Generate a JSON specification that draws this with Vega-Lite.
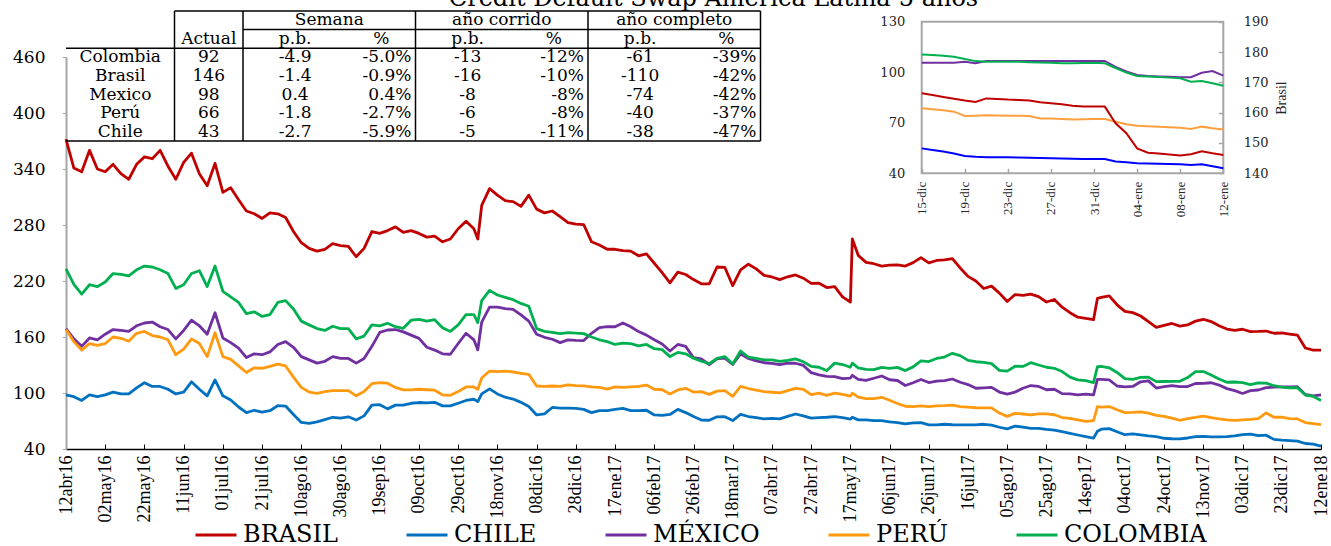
{
  "$schema": "https://vega.github.io/schema/vega-lite/v6.json",
  "width": 1255,
  "height": 392,
  "autosize": {"type": "none"},
  "padding": {"left": 66, "top": 57, "right": 10, "bottom": 97},
  "title": {
    "text": "Credit Default Swap America Latina-5 años",
    "anchor": "middle",
    "dx": 20,
    "offset": -20,
    "baseline": "alphabetic",
    "font": "DejaVu Serif",
    "fontSize": 24,
    "fontWeight": "normal",
    "color": "#000000"
  },
  "config": {
    "view": {"stroke": null},
    "background": "#ffffff",
    "locale": {
      "time": {
        "dateTime": "%A, %e de %B de %Y, %X",
        "date": "%d/%m/%Y",
        "time": "%H:%M:%S",
        "periods": ["AM", "PM"],
        "days": ["domingo", "lunes", "martes", "miércoles", "jueves", "viernes", "sábado"],
        "shortDays": ["dom", "lun", "mar", "mié", "jue", "vie", "sáb"],
        "months": ["enero", "febrero", "marzo", "abril", "mayo", "junio", "julio", "agosto", "septiembre", "octubre", "noviembre", "diciembre"],
        "shortMonths": ["ene", "feb", "mar", "abr", "may", "jun", "jul", "ago", "sep", "oct", "nov", "dic"]
      }
    }
  },
  "datasets": {
    "cds": [
      {"fecha": "2016-04-12", "BRASIL": 372, "CHILE": 98, "MÉXICO": 169, "PERÚ": 168, "COLOMBIA": 233},
      {"fecha": "2016-04-16", "BRASIL": 341, "CHILE": 96, "MÉXICO": 158, "PERÚ": 155, "COLOMBIA": 216.5},
      {"fecha": "2016-04-20", "BRASIL": 337, "CHILE": 92, "MÉXICO": 150, "PERÚ": 146, "COLOMBIA": 206},
      {"fecha": "2016-04-24", "BRASIL": 360, "CHILE": 98, "MÉXICO": 159, "PERÚ": 153, "COLOMBIA": 216},
      {"fecha": "2016-04-28", "BRASIL": 340, "CHILE": 96, "MÉXICO": 157, "PERÚ": 151, "COLOMBIA": 214},
      {"fecha": "2016-05-02", "BRASIL": 337, "CHILE": 98, "MÉXICO": 163, "PERÚ": 153, "COLOMBIA": 219},
      {"fecha": "2016-05-06", "BRASIL": 345, "CHILE": 101, "MÉXICO": 168, "PERÚ": 160, "COLOMBIA": 228},
      {"fecha": "2016-05-10", "BRASIL": 335, "CHILE": 99, "MÉXICO": 167, "PERÚ": 158.6, "COLOMBIA": 227},
      {"fecha": "2016-05-14", "BRASIL": 329, "CHILE": 99, "MÉXICO": 166, "PERÚ": 155.5, "COLOMBIA": 225.5},
      {"fecha": "2016-05-18", "BRASIL": 345, "CHILE": 105.5, "MÉXICO": 172, "PERÚ": 164, "COLOMBIA": 232},
      {"fecha": "2016-05-22", "BRASIL": 353, "CHILE": 111, "MÉXICO": 175, "PERÚ": 166, "COLOMBIA": 236},
      {"fecha": "2016-05-26", "BRASIL": 351, "CHILE": 107, "MÉXICO": 176, "PERÚ": 161.5, "COLOMBIA": 235},
      {"fecha": "2016-05-30", "BRASIL": 360, "CHILE": 107, "MÉXICO": 171, "PERÚ": 160, "COLOMBIA": 232},
      {"fecha": "2016-06-03", "BRASIL": 343, "CHILE": 104, "MÉXICO": 168, "PERÚ": 157, "COLOMBIA": 228},
      {"fecha": "2016-06-07", "BRASIL": 329, "CHILE": 99, "MÉXICO": 158, "PERÚ": 141, "COLOMBIA": 212},
      {"fecha": "2016-06-11", "BRASIL": 347, "CHILE": 101, "MÉXICO": 167, "PERÚ": 147, "COLOMBIA": 216},
      {"fecha": "2016-06-15", "BRASIL": 357, "CHILE": 112, "MÉXICO": 178, "PERÚ": 158, "COLOMBIA": 228},
      {"fecha": "2016-06-19", "BRASIL": 335, "CHILE": 104, "MÉXICO": 172, "PERÚ": 153, "COLOMBIA": 231},
      {"fecha": "2016-06-23", "BRASIL": 322, "CHILE": 97, "MÉXICO": 163, "PERÚ": 139, "COLOMBIA": 214},
      {"fecha": "2016-06-27", "BRASIL": 346, "CHILE": 114, "MÉXICO": 186, "PERÚ": 164.5, "COLOMBIA": 236},
      {"fecha": "2016-07-01", "BRASIL": 315, "CHILE": 97, "MÉXICO": 159, "PERÚ": 139, "COLOMBIA": 209},
      {"fecha": "2016-07-05", "BRASIL": 320, "CHILE": 92.5, "MÉXICO": 154, "PERÚ": 136, "COLOMBIA": 203},
      {"fecha": "2016-07-09", "BRASIL": 307, "CHILE": 85, "MÉXICO": 148, "PERÚ": 129, "COLOMBIA": 197},
      {"fecha": "2016-07-13", "BRASIL": 295, "CHILE": 79, "MÉXICO": 138, "PERÚ": 122, "COLOMBIA": 185},
      {"fecha": "2016-07-17", "BRASIL": 292, "CHILE": 81.5, "MÉXICO": 142, "PERÚ": 127, "COLOMBIA": 187},
      {"fecha": "2016-07-21", "BRASIL": 287, "CHILE": 79.5, "MÉXICO": 141, "PERÚ": 126.5, "COLOMBIA": 182},
      {"fecha": "2016-07-25", "BRASIL": 293, "CHILE": 81, "MÉXICO": 144, "PERÚ": 128.5, "COLOMBIA": 184},
      {"fecha": "2016-07-29", "BRASIL": 292, "CHILE": 86.5, "MÉXICO": 152, "PERÚ": 131, "COLOMBIA": 197},
      {"fecha": "2016-08-02", "BRASIL": 288, "CHILE": 86, "MÉXICO": 155, "PERÚ": 129, "COLOMBIA": 199},
      {"fecha": "2016-08-06", "BRASIL": 273, "CHILE": 77, "MÉXICO": 149, "PERÚ": 117, "COLOMBIA": 190},
      {"fecha": "2016-08-10", "BRASIL": 261, "CHILE": 68.5, "MÉXICO": 139, "PERÚ": 106, "COLOMBIA": 177},
      {"fecha": "2016-08-14", "BRASIL": 255, "CHILE": 67.5, "MÉXICO": 135.5, "PERÚ": 101, "COLOMBIA": 173},
      {"fecha": "2016-08-18", "BRASIL": 252, "CHILE": 69, "MÉXICO": 132, "PERÚ": 99.7, "COLOMBIA": 169},
      {"fecha": "2016-08-22", "BRASIL": 254, "CHILE": 71.5, "MÉXICO": 134, "PERÚ": 101.5, "COLOMBIA": 167},
      {"fecha": "2016-08-26", "BRASIL": 260, "CHILE": 74, "MÉXICO": 139, "PERÚ": 102.5, "COLOMBIA": 171.5},
      {"fecha": "2016-08-30", "BRASIL": 258, "CHILE": 73, "MÉXICO": 137, "PERÚ": 102.5, "COLOMBIA": 169},
      {"fecha": "2016-09-03", "BRASIL": 257, "CHILE": 74.5, "MÉXICO": 137, "PERÚ": 102.5, "COLOMBIA": 169},
      {"fecha": "2016-09-07", "BRASIL": 246, "CHILE": 71, "MÉXICO": 132, "PERÚ": 97, "COLOMBIA": 158},
      {"fecha": "2016-09-11", "BRASIL": 255, "CHILE": 75.5, "MÉXICO": 137, "PERÚ": 101.5, "COLOMBIA": 161},
      {"fecha": "2016-09-15", "BRASIL": 273, "CHILE": 87, "MÉXICO": 150, "PERÚ": 110, "COLOMBIA": 173},
      {"fecha": "2016-09-19", "BRASIL": 271, "CHILE": 87.5, "MÉXICO": 165, "PERÚ": 111, "COLOMBIA": 172},
      {"fecha": "2016-09-23", "BRASIL": 274, "CHILE": 83, "MÉXICO": 167.5, "PERÚ": 110.5, "COLOMBIA": 174.7},
      {"fecha": "2016-09-27", "BRASIL": 278, "CHILE": 87, "MÉXICO": 168, "PERÚ": 106, "COLOMBIA": 171},
      {"fecha": "2016-10-01", "BRASIL": 272, "CHILE": 87, "MÉXICO": 165.5, "PERÚ": 103.3, "COLOMBIA": 169.3},
      {"fecha": "2016-10-05", "BRASIL": 274, "CHILE": 89, "MÉXICO": 162, "PERÚ": 103.3, "COLOMBIA": 178},
      {"fecha": "2016-10-09", "BRASIL": 271, "CHILE": 89.8, "MÉXICO": 158.5, "PERÚ": 104, "COLOMBIA": 179},
      {"fecha": "2016-10-13", "BRASIL": 267, "CHILE": 89.5, "MÉXICO": 149, "PERÚ": 103.5, "COLOMBIA": 177},
      {"fecha": "2016-10-17", "BRASIL": 268, "CHILE": 90, "MÉXICO": 146, "PERÚ": 103, "COLOMBIA": 178.5},
      {"fecha": "2016-10-21", "BRASIL": 262, "CHILE": 86.2, "MÉXICO": 142, "PERÚ": 98, "COLOMBIA": 170},
      {"fecha": "2016-10-25", "BRASIL": 265, "CHILE": 86.2, "MÉXICO": 141.5, "PERÚ": 97.5, "COLOMBIA": 166},
      {"fecha": "2016-10-29", "BRASIL": 276, "CHILE": 89, "MÉXICO": 153, "PERÚ": 101.5, "COLOMBIA": 173},
      {"fecha": "2016-11-02", "BRASIL": 284, "CHILE": 92, "MÉXICO": 164, "PERÚ": 106.5, "COLOMBIA": 184},
      {"fecha": "2016-11-06", "BRASIL": 276, "CHILE": 93.3, "MÉXICO": 157, "PERÚ": 106.5, "COLOMBIA": 184},
      {"fecha": "2016-11-08", "BRASIL": 265, "CHILE": 90.8, "MÉXICO": 146.2, "PERÚ": 104, "COLOMBIA": 175.4},
      {"fecha": "2016-11-10", "BRASIL": 301, "CHILE": 99, "MÉXICO": 176, "PERÚ": 116, "COLOMBIA": 199},
      {"fecha": "2016-11-14", "BRASIL": 319, "CHILE": 104.5, "MÉXICO": 192, "PERÚ": 123.5, "COLOMBIA": 210},
      {"fecha": "2016-11-18", "BRASIL": 312, "CHILE": 99, "MÉXICO": 192, "PERÚ": 123, "COLOMBIA": 205},
      {"fecha": "2016-11-22", "BRASIL": 306, "CHILE": 95.5, "MÉXICO": 190.5, "PERÚ": 123.5, "COLOMBIA": 202.5},
      {"fecha": "2016-11-26", "BRASIL": 305, "CHILE": 93.5, "MÉXICO": 189.5, "PERÚ": 122.5, "COLOMBIA": 200},
      {"fecha": "2016-11-30", "BRASIL": 300, "CHILE": 90, "MÉXICO": 183.7, "PERÚ": 121, "COLOMBIA": 196},
      {"fecha": "2016-12-04", "BRASIL": 312, "CHILE": 85.5, "MÉXICO": 177, "PERÚ": 120, "COLOMBIA": 193},
      {"fecha": "2016-12-08", "BRASIL": 297, "CHILE": 76.5, "MÉXICO": 163, "PERÚ": 107.5, "COLOMBIA": 169},
      {"fecha": "2016-12-12", "BRASIL": 293, "CHILE": 77.6, "MÉXICO": 159.7, "PERÚ": 107, "COLOMBIA": 166},
      {"fecha": "2016-12-16", "BRASIL": 295, "CHILE": 84.5, "MÉXICO": 157.6, "PERÚ": 107.5, "COLOMBIA": 165},
      {"fecha": "2016-12-20", "BRASIL": 289, "CHILE": 83.7, "MÉXICO": 154, "PERÚ": 107, "COLOMBIA": 163.5},
      {"fecha": "2016-12-24", "BRASIL": 282.5, "CHILE": 83.7, "MÉXICO": 156.9, "PERÚ": 108.7, "COLOMBIA": 164.7},
      {"fecha": "2016-12-28", "BRASIL": 281, "CHILE": 83.5, "MÉXICO": 156.3, "PERÚ": 107.8, "COLOMBIA": 164.2},
      {"fecha": "2017-01-01", "BRASIL": 280.5, "CHILE": 82.5, "MÉXICO": 156.2, "PERÚ": 107.6, "COLOMBIA": 163.6},
      {"fecha": "2017-01-05", "BRASIL": 262, "CHILE": 79, "MÉXICO": 164, "PERÚ": 106.5, "COLOMBIA": 160},
      {"fecha": "2017-01-09", "BRASIL": 258.6, "CHILE": 81.2, "MÉXICO": 170, "PERÚ": 106, "COLOMBIA": 157},
      {"fecha": "2017-01-13", "BRASIL": 254, "CHILE": 81.2, "MÉXICO": 171, "PERÚ": 104.2, "COLOMBIA": 155},
      {"fecha": "2017-01-17", "BRASIL": 254, "CHILE": 82.5, "MÉXICO": 171, "PERÚ": 106.5, "COLOMBIA": 152},
      {"fecha": "2017-01-21", "BRASIL": 252.5, "CHILE": 83.5, "MÉXICO": 175, "PERÚ": 106, "COLOMBIA": 153.5},
      {"fecha": "2017-01-25", "BRASIL": 252, "CHILE": 81.2, "MÉXICO": 171, "PERÚ": 106.5, "COLOMBIA": 152.8},
      {"fecha": "2017-01-29", "BRASIL": 247, "CHILE": 81.2, "MÉXICO": 165.8, "PERÚ": 107, "COLOMBIA": 150.5},
      {"fecha": "2017-02-02", "BRASIL": 249, "CHILE": 81.5, "MÉXICO": 162, "PERÚ": 108.5, "COLOMBIA": 152},
      {"fecha": "2017-02-06", "BRASIL": 239, "CHILE": 76.5, "MÉXICO": 157, "PERÚ": 104, "COLOMBIA": 147.5},
      {"fecha": "2017-02-10", "BRASIL": 229, "CHILE": 76, "MÉXICO": 152.5, "PERÚ": 103.5, "COLOMBIA": 146.5},
      {"fecha": "2017-02-14", "BRASIL": 218, "CHILE": 77, "MÉXICO": 145, "PERÚ": 99, "COLOMBIA": 139},
      {"fecha": "2017-02-18", "BRASIL": 229.5, "CHILE": 82.5, "MÉXICO": 152, "PERÚ": 103.3, "COLOMBIA": 143.5},
      {"fecha": "2017-02-22", "BRASIL": 227, "CHILE": 79, "MÉXICO": 150, "PERÚ": 105, "COLOMBIA": 142},
      {"fecha": "2017-02-26", "BRASIL": 221.5, "CHILE": 74.8, "MÉXICO": 137.8, "PERÚ": 101, "COLOMBIA": 137.3},
      {"fecha": "2017-03-02", "BRASIL": 217, "CHILE": 71, "MÉXICO": 136.5, "PERÚ": 101.4, "COLOMBIA": 134},
      {"fecha": "2017-03-06", "BRASIL": 217, "CHILE": 70.8, "MÉXICO": 130.5, "PERÚ": 98.5, "COLOMBIA": 131.5},
      {"fecha": "2017-03-10", "BRASIL": 235, "CHILE": 74.5, "MÉXICO": 136.5, "PERÚ": 102, "COLOMBIA": 137},
      {"fecha": "2017-03-14", "BRASIL": 234.5, "CHILE": 74.6, "MÉXICO": 137.3, "PERÚ": 102.6, "COLOMBIA": 139},
      {"fecha": "2017-03-18", "BRASIL": 215, "CHILE": 70.5, "MÉXICO": 130.5, "PERÚ": 96.5, "COLOMBIA": 131},
      {"fecha": "2017-03-22", "BRASIL": 232, "CHILE": 77, "MÉXICO": 142, "PERÚ": 107, "COLOMBIA": 145},
      {"fecha": "2017-03-26", "BRASIL": 238, "CHILE": 74.8, "MÉXICO": 137, "PERÚ": 104.8, "COLOMBIA": 138.5},
      {"fecha": "2017-03-30", "BRASIL": 233, "CHILE": 73.5, "MÉXICO": 134.5, "PERÚ": 103, "COLOMBIA": 137},
      {"fecha": "2017-04-03", "BRASIL": 226, "CHILE": 72.2, "MÉXICO": 132.4, "PERÚ": 101.5, "COLOMBIA": 135.5},
      {"fecha": "2017-04-07", "BRASIL": 224.3, "CHILE": 72.8, "MÉXICO": 131.8, "PERÚ": 100.8, "COLOMBIA": 135.5},
      {"fecha": "2017-04-11", "BRASIL": 221.5, "CHILE": 72.2, "MÉXICO": 130.3, "PERÚ": 100.2, "COLOMBIA": 134},
      {"fecha": "2017-04-15", "BRASIL": 224.5, "CHILE": 75, "MÉXICO": 131.9, "PERÚ": 102.6, "COLOMBIA": 135},
      {"fecha": "2017-04-19", "BRASIL": 226.5, "CHILE": 77.5, "MÉXICO": 131.9, "PERÚ": 105, "COLOMBIA": 136.5},
      {"fecha": "2017-04-23", "BRASIL": 223, "CHILE": 75.5, "MÉXICO": 129.5, "PERÚ": 104, "COLOMBIA": 133.5},
      {"fecha": "2017-04-27", "BRASIL": 217.5, "CHILE": 73, "MÉXICO": 121.8, "PERÚ": 98.3, "COLOMBIA": 128.5},
      {"fecha": "2017-05-01", "BRASIL": 217.6, "CHILE": 73.7, "MÉXICO": 119.5, "PERÚ": 99.8, "COLOMBIA": 127.6},
      {"fecha": "2017-05-05", "BRASIL": 213, "CHILE": 74, "MÉXICO": 117.8, "PERÚ": 97.5, "COLOMBIA": 124},
      {"fecha": "2017-05-09", "BRASIL": 214, "CHILE": 74.8, "MÉXICO": 117.6, "PERÚ": 99.8, "COLOMBIA": 132},
      {"fecha": "2017-05-13", "BRASIL": 203, "CHILE": 73.5, "MÉXICO": 115.5, "PERÚ": 98.5, "COLOMBIA": 130.5},
      {"fecha": "2017-05-17", "BRASIL": 197.5, "CHILE": 72, "MÉXICO": 116, "PERÚ": 96.6, "COLOMBIA": 127.6},
      {"fecha": "2017-05-18", "BRASIL": 265, "CHILE": 74, "MÉXICO": 119, "PERÚ": 99.8, "COLOMBIA": 131.9},
      {"fecha": "2017-05-21", "BRASIL": 247.5, "CHILE": 71.2, "MÉXICO": 114.5, "PERÚ": 95.5, "COLOMBIA": 127},
      {"fecha": "2017-05-25", "BRASIL": 240, "CHILE": 71.2, "MÉXICO": 113.5, "PERÚ": 94, "COLOMBIA": 125.3},
      {"fecha": "2017-05-29", "BRASIL": 238.5, "CHILE": 70.5, "MÉXICO": 115.8, "PERÚ": 94, "COLOMBIA": 125},
      {"fecha": "2017-06-02", "BRASIL": 236, "CHILE": 70.5, "MÉXICO": 118.2, "PERÚ": 95.4, "COLOMBIA": 127.5},
      {"fecha": "2017-06-06", "BRASIL": 237, "CHILE": 69, "MÉXICO": 114.2, "PERÚ": 92.2, "COLOMBIA": 126.5},
      {"fecha": "2017-06-10", "BRASIL": 237.2, "CHILE": 68.3, "MÉXICO": 113.4, "PERÚ": 88.8, "COLOMBIA": 127.5},
      {"fecha": "2017-06-14", "BRASIL": 236, "CHILE": 67, "MÉXICO": 108, "PERÚ": 85.8, "COLOMBIA": 124},
      {"fecha": "2017-06-18", "BRASIL": 239.7, "CHILE": 68, "MÉXICO": 111, "PERÚ": 85.5, "COLOMBIA": 128},
      {"fecha": "2017-06-22", "BRASIL": 245, "CHILE": 68.3, "MÉXICO": 114.5, "PERÚ": 86.2, "COLOMBIA": 134.5},
      {"fecha": "2017-06-26", "BRASIL": 239.5, "CHILE": 65.8, "MÉXICO": 111.2, "PERÚ": 85.5, "COLOMBIA": 133.7},
      {"fecha": "2017-06-30", "BRASIL": 242, "CHILE": 65.8, "MÉXICO": 112.7, "PERÚ": 86.2, "COLOMBIA": 137},
      {"fecha": "2017-07-04", "BRASIL": 242.6, "CHILE": 66.5, "MÉXICO": 113.3, "PERÚ": 86.5, "COLOMBIA": 138.5},
      {"fecha": "2017-07-08", "BRASIL": 244, "CHILE": 66, "MÉXICO": 115, "PERÚ": 87, "COLOMBIA": 142.5},
      {"fecha": "2017-07-12", "BRASIL": 234, "CHILE": 65.8, "MÉXICO": 111.5, "PERÚ": 85.5, "COLOMBIA": 140},
      {"fecha": "2017-07-16", "BRASIL": 225, "CHILE": 65.8, "MÉXICO": 109, "PERÚ": 84.9, "COLOMBIA": 135},
      {"fecha": "2017-07-20", "BRASIL": 220, "CHILE": 65.8, "MÉXICO": 105.1, "PERÚ": 84.2, "COLOMBIA": 133.5},
      {"fecha": "2017-07-24", "BRASIL": 212, "CHILE": 66.5, "MÉXICO": 105.5, "PERÚ": 84, "COLOMBIA": 132.8},
      {"fecha": "2017-07-28", "BRASIL": 214.5, "CHILE": 65.5, "MÉXICO": 106, "PERÚ": 84, "COLOMBIA": 131.5},
      {"fecha": "2017-08-01", "BRASIL": 207, "CHILE": 63.3, "MÉXICO": 101, "PERÚ": 78.5, "COLOMBIA": 124.2},
      {"fecha": "2017-08-05", "BRASIL": 198, "CHILE": 61.5, "MÉXICO": 98.8, "PERÚ": 75, "COLOMBIA": 123.5},
      {"fecha": "2017-08-09", "BRASIL": 205.5, "CHILE": 64.5, "MÉXICO": 101, "PERÚ": 78.2, "COLOMBIA": 128.7},
      {"fecha": "2017-08-13", "BRASIL": 204.5, "CHILE": 63.5, "MÉXICO": 105.1, "PERÚ": 77.5, "COLOMBIA": 128.5},
      {"fecha": "2017-08-17", "BRASIL": 206, "CHILE": 62.2, "MÉXICO": 108, "PERÚ": 76.6, "COLOMBIA": 132.5},
      {"fecha": "2017-08-21", "BRASIL": 203.2, "CHILE": 62.2, "MÉXICO": 107, "PERÚ": 77.6, "COLOMBIA": 130},
      {"fecha": "2017-08-25", "BRASIL": 197.5, "CHILE": 61, "MÉXICO": 103.5, "PERÚ": 77.6, "COLOMBIA": 127.6},
      {"fecha": "2017-08-29", "BRASIL": 200.2, "CHILE": 60.3, "MÉXICO": 104, "PERÚ": 76.7, "COLOMBIA": 126.5},
      {"fecha": "2017-09-02", "BRASIL": 192, "CHILE": 58.5, "MÉXICO": 99.3, "PERÚ": 73.7, "COLOMBIA": 123},
      {"fecha": "2017-09-06", "BRASIL": 186, "CHILE": 56.8, "MÉXICO": 99, "PERÚ": 72.8, "COLOMBIA": 117},
      {"fecha": "2017-09-10", "BRASIL": 181.2, "CHILE": 55, "MÉXICO": 98, "PERÚ": 71.3, "COLOMBIA": 114},
      {"fecha": "2017-09-14", "BRASIL": 180, "CHILE": 53.3, "MÉXICO": 98.8, "PERÚ": 69.7, "COLOMBIA": 113.3},
      {"fecha": "2017-09-18", "BRASIL": 178.5, "CHILE": 51.6, "MÉXICO": 98, "PERÚ": 70.4, "COLOMBIA": 111.2},
      {"fecha": "2017-09-20", "BRASIL": 201.5, "CHILE": 59, "MÉXICO": 114.7, "PERÚ": 85.4, "COLOMBIA": 128.3},
      {"fecha": "2017-09-22", "BRASIL": 202.5, "CHILE": 61.2, "MÉXICO": 114.7, "PERÚ": 84.8, "COLOMBIA": 128.4},
      {"fecha": "2017-09-26", "BRASIL": 204, "CHILE": 61.8, "MÉXICO": 114, "PERÚ": 85.5, "COLOMBIA": 127},
      {"fecha": "2017-09-30", "BRASIL": 194.5, "CHILE": 58.5, "MÉXICO": 107.5, "PERÚ": 82, "COLOMBIA": 122},
      {"fecha": "2017-10-04", "BRASIL": 187.5, "CHILE": 55.3, "MÉXICO": 106.5, "PERÚ": 79, "COLOMBIA": 115.5},
      {"fecha": "2017-10-08", "BRASIL": 186.1, "CHILE": 56.2, "MÉXICO": 107, "PERÚ": 79.2, "COLOMBIA": 114.5},
      {"fecha": "2017-10-12", "BRASIL": 182.5, "CHILE": 55.1, "MÉXICO": 112, "PERÚ": 79.8, "COLOMBIA": 116.8},
      {"fecha": "2017-10-16", "BRASIL": 176.5, "CHILE": 54, "MÉXICO": 113, "PERÚ": 78.5, "COLOMBIA": 117},
      {"fecha": "2017-10-20", "BRASIL": 170.4, "CHILE": 53.3, "MÉXICO": 105.3, "PERÚ": 76, "COLOMBIA": 112.2},
      {"fecha": "2017-10-24", "BRASIL": 172.5, "CHILE": 51.5, "MÉXICO": 106.8, "PERÚ": 75, "COLOMBIA": 112.3},
      {"fecha": "2017-10-28", "BRASIL": 174.5, "CHILE": 51, "MÉXICO": 108, "PERÚ": 73, "COLOMBIA": 112.5},
      {"fecha": "2017-11-01", "BRASIL": 171.6, "CHILE": 50.8, "MÉXICO": 106.9, "PERÚ": 70.8, "COLOMBIA": 112.5},
      {"fecha": "2017-11-05", "BRASIL": 172.9, "CHILE": 51.8, "MÉXICO": 106.9, "PERÚ": 72.5, "COLOMBIA": 116.5},
      {"fecha": "2017-11-09", "BRASIL": 177, "CHILE": 53.3, "MÉXICO": 110.2, "PERÚ": 73.8, "COLOMBIA": 122.9},
      {"fecha": "2017-11-13", "BRASIL": 179, "CHILE": 53.5, "MÉXICO": 110.4, "PERÚ": 75.3, "COLOMBIA": 123},
      {"fecha": "2017-11-17", "BRASIL": 176.5, "CHILE": 53, "MÉXICO": 111, "PERÚ": 73.5, "COLOMBIA": 119.3},
      {"fecha": "2017-11-21", "BRASIL": 172, "CHILE": 53, "MÉXICO": 108.5, "PERÚ": 72.2, "COLOMBIA": 115},
      {"fecha": "2017-11-25", "BRASIL": 168.5, "CHILE": 53.3, "MÉXICO": 104.7, "PERÚ": 71.2, "COLOMBIA": 111.5},
      {"fecha": "2017-11-29", "BRASIL": 167, "CHILE": 54, "MÉXICO": 102.6, "PERÚ": 70.6, "COLOMBIA": 111.8},
      {"fecha": "2017-12-03", "BRASIL": 168.3, "CHILE": 55.5, "MÉXICO": 99.5, "PERÚ": 71.1, "COLOMBIA": 111.1},
      {"fecha": "2017-12-07", "BRASIL": 165.8, "CHILE": 56, "MÉXICO": 102.5, "PERÚ": 71.7, "COLOMBIA": 109},
      {"fecha": "2017-12-11", "BRASIL": 166, "CHILE": 54.3, "MÉXICO": 103.2, "PERÚ": 72.6, "COLOMBIA": 110.8},
      {"fecha": "2017-12-15", "BRASIL": 166.4, "CHILE": 54.8, "MÉXICO": 105.7, "PERÚ": 78.6, "COLOMBIA": 110.6},
      {"fecha": "2017-12-19", "BRASIL": 164, "CHILE": 50.3, "MÉXICO": 106.2, "PERÚ": 74, "COLOMBIA": 107.8},
      {"fecha": "2017-12-23", "BRASIL": 164.3, "CHILE": 49.5, "MÉXICO": 106.6, "PERÚ": 74.2, "COLOMBIA": 106.2},
      {"fecha": "2017-12-27", "BRASIL": 163.1, "CHILE": 49, "MÉXICO": 106.6, "PERÚ": 72.5, "COLOMBIA": 105.6},
      {"fecha": "2017-12-31", "BRASIL": 162, "CHILE": 48.5, "MÉXICO": 106.7, "PERÚ": 72.2, "COLOMBIA": 105.6},
      {"fecha": "2018-01-04", "BRASIL": 148.2, "CHILE": 45.9, "MÉXICO": 98.4, "PERÚ": 68.3, "COLOMBIA": 97.8},
      {"fecha": "2018-01-08", "BRASIL": 145.9, "CHILE": 45.3, "MÉXICO": 97, "PERÚ": 67.1, "COLOMBIA": 96.4},
      {"fecha": "2018-01-12", "BRASIL": 146, "CHILE": 43, "MÉXICO": 98, "PERÚ": 66, "COLOMBIA": 92}
    ],
    "diario": [
      {"fecha": "2017-12-15", "BRASIL": 166.4, "CHILE": 54.8, "MÉXICO": 105.7, "PERÚ": 78.6, "COLOMBIA": 110.6},
      {"fecha": "2017-12-16", "BRASIL": 165.8, "CHILE": 53.8, "MÉXICO": 105.7, "PERÚ": 78.0, "COLOMBIA": 110.2},
      {"fecha": "2017-12-17", "BRASIL": 165.2, "CHILE": 52.9, "MÉXICO": 105.7, "PERÚ": 77.4, "COLOMBIA": 109.8},
      {"fecha": "2017-12-18", "BRASIL": 164.6, "CHILE": 51.8, "MÉXICO": 105.7, "PERÚ": 76.6, "COLOMBIA": 109.2},
      {"fecha": "2017-12-19", "BRASIL": 164.0, "CHILE": 50.3, "MÉXICO": 106.2, "PERÚ": 74.0, "COLOMBIA": 107.8},
      {"fecha": "2017-12-20", "BRASIL": 163.5, "CHILE": 49.8, "MÉXICO": 105.3, "PERÚ": 74.2, "COLOMBIA": 106.6},
      {"fecha": "2017-12-21", "BRASIL": 164.7, "CHILE": 49.5, "MÉXICO": 106.7, "PERÚ": 74.4, "COLOMBIA": 106.2},
      {"fecha": "2017-12-22", "BRASIL": 164.5, "CHILE": 49.5, "MÉXICO": 106.6, "PERÚ": 74.3, "COLOMBIA": 106.2},
      {"fecha": "2017-12-23", "BRASIL": 164.3, "CHILE": 49.5, "MÉXICO": 106.6, "PERÚ": 74.2, "COLOMBIA": 106.2},
      {"fecha": "2017-12-24", "BRASIL": 164.2, "CHILE": 49.4, "MÉXICO": 106.6, "PERÚ": 74.2, "COLOMBIA": 106.2},
      {"fecha": "2017-12-25", "BRASIL": 164.0, "CHILE": 49.3, "MÉXICO": 106.7, "PERÚ": 74.0, "COLOMBIA": 106.0},
      {"fecha": "2017-12-26", "BRASIL": 163.4, "CHILE": 49.1, "MÉXICO": 106.7, "PERÚ": 72.6, "COLOMBIA": 105.8},
      {"fecha": "2017-12-27", "BRASIL": 163.1, "CHILE": 49.0, "MÉXICO": 106.6, "PERÚ": 72.5, "COLOMBIA": 105.6},
      {"fecha": "2017-12-28", "BRASIL": 162.8, "CHILE": 48.8, "MÉXICO": 106.6, "PERÚ": 72.2, "COLOMBIA": 105.4},
      {"fecha": "2017-12-29", "BRASIL": 162.3, "CHILE": 48.6, "MÉXICO": 106.6, "PERÚ": 72.0, "COLOMBIA": 105.4},
      {"fecha": "2017-12-30", "BRASIL": 162.0, "CHILE": 48.5, "MÉXICO": 106.7, "PERÚ": 72.1, "COLOMBIA": 105.5},
      {"fecha": "2017-12-31", "BRASIL": 162.0, "CHILE": 48.5, "MÉXICO": 106.7, "PERÚ": 72.2, "COLOMBIA": 105.6},
      {"fecha": "2018-01-01", "BRASIL": 162.0, "CHILE": 48.5, "MÉXICO": 106.7, "PERÚ": 72.2, "COLOMBIA": 105.3},
      {"fecha": "2018-01-02", "BRASIL": 156.5, "CHILE": 47.0, "MÉXICO": 103.2, "PERÚ": 70.6, "COLOMBIA": 102.5},
      {"fecha": "2018-01-03", "BRASIL": 153.2, "CHILE": 46.5, "MÉXICO": 100.5, "PERÚ": 69.1, "COLOMBIA": 99.8},
      {"fecha": "2018-01-04", "BRASIL": 148.2, "CHILE": 45.9, "MÉXICO": 98.4, "PERÚ": 68.3, "COLOMBIA": 97.8},
      {"fecha": "2018-01-05", "BRASIL": 146.8, "CHILE": 45.8, "MÉXICO": 97.7, "PERÚ": 68.0, "COLOMBIA": 97.4},
      {"fecha": "2018-01-06", "BRASIL": 146.5, "CHILE": 45.6, "MÉXICO": 97.5, "PERÚ": 67.7, "COLOMBIA": 97.1},
      {"fecha": "2018-01-07", "BRASIL": 146.2, "CHILE": 45.5, "MÉXICO": 97.3, "PERÚ": 67.4, "COLOMBIA": 96.8},
      {"fecha": "2018-01-08", "BRASIL": 145.9, "CHILE": 45.3, "MÉXICO": 97.0, "PERÚ": 67.1, "COLOMBIA": 96.4},
      {"fecha": "2018-01-09", "BRASIL": 146.3, "CHILE": 44.9, "MÉXICO": 97.0, "PERÚ": 66.3, "COLOMBIA": 94.4},
      {"fecha": "2018-01-10", "BRASIL": 147.3, "CHILE": 45.3, "MÉXICO": 99.7, "PERÚ": 67.7, "COLOMBIA": 94.8},
      {"fecha": "2018-01-11", "BRASIL": 146.6, "CHILE": 44.2, "MÉXICO": 100.7, "PERÚ": 66.7, "COLOMBIA": 93.5},
      {"fecha": "2018-01-12", "BRASIL": 146.0, "CHILE": 43.0, "MÉXICO": 98.0, "PERÚ": 66.0, "COLOMBIA": 92.0}
    ],
    "marco": [
      {"inicio": "2017-12-15", "fin": "2018-01-12", "bajo": 40, "alto": 130}
    ],
    "bordes": [
      {"c1": 0.5, "c2": 7.5, "r1": -2.5, "r2": -2.5},
      {"c1": 1.5, "c2": 7.5, "r1": -1.5, "r2": -1.5},
      {"c1": -0.5, "c2": 7.5, "r1": -0.5, "r2": -0.5},
      {"c1": -0.5, "c2": 7.5, "r1": 4.5, "r2": 4.5},
      {"c1": 0.5, "c2": 0.5, "r1": -2.5, "r2": 4.5},
      {"c1": 1.5, "c2": 1.5, "r1": -2.5, "r2": 4.5},
      {"c1": 3.5, "c2": 3.5, "r1": -2.5, "r2": 4.5},
      {"c1": 5.5, "c2": 5.5, "r1": -2.5, "r2": 4.5},
      {"c1": 7.5, "c2": 7.5, "r1": -2.5, "r2": 4.5}
    ],
    "celdas": [
      {"r": -2, "c": 2.5, "t": "Semana", "al": "c"},
      {"r": -2, "c": 4.5, "t": "año corrido", "al": "c"},
      {"r": -2, "c": 6.5, "t": "año completo", "al": "c"},
      {"r": -1, "c": 1, "t": "Actual", "al": "c"},
      {"r": -1, "c": 2, "t": "p.b.", "al": "s"},
      {"r": -1, "c": 3, "t": "%", "al": "s"},
      {"r": -1, "c": 4, "t": "p.b.", "al": "s"},
      {"r": -1, "c": 5, "t": "%", "al": "s"},
      {"r": -1, "c": 6, "t": "p.b.", "al": "s"},
      {"r": -1, "c": 7, "t": "%", "al": "s"},
      {"r": 0, "c": 0, "t": "Colombia", "al": "c"},
      {"r": 0, "c": 1, "t": "92", "al": "c"},
      {"r": 0, "c": 2, "t": "-4.9", "al": "s"},
      {"r": 0, "c": 3, "t": "-5.0%", "al": "r"},
      {"r": 0, "c": 4, "t": "-13", "al": "s"},
      {"r": 0, "c": 5, "t": "-12%", "al": "r"},
      {"r": 0, "c": 6, "t": "-61", "al": "s"},
      {"r": 0, "c": 7, "t": "-39%", "al": "r"},
      {"r": 1, "c": 0, "t": "Brasil", "al": "c"},
      {"r": 1, "c": 1, "t": "146", "al": "c"},
      {"r": 1, "c": 2, "t": "-1.4", "al": "s"},
      {"r": 1, "c": 3, "t": "-0.9%", "al": "r"},
      {"r": 1, "c": 4, "t": "-16", "al": "s"},
      {"r": 1, "c": 5, "t": "-10%", "al": "r"},
      {"r": 1, "c": 6, "t": "-110", "al": "s"},
      {"r": 1, "c": 7, "t": "-42%", "al": "r"},
      {"r": 2, "c": 0, "t": "Mexico", "al": "c"},
      {"r": 2, "c": 1, "t": "98", "al": "c"},
      {"r": 2, "c": 2, "t": "0.4", "al": "s"},
      {"r": 2, "c": 3, "t": "0.4%", "al": "r"},
      {"r": 2, "c": 4, "t": "-8", "al": "s"},
      {"r": 2, "c": 5, "t": "-8%", "al": "r"},
      {"r": 2, "c": 6, "t": "-74", "al": "s"},
      {"r": 2, "c": 7, "t": "-42%", "al": "r"},
      {"r": 3, "c": 0, "t": "Perú", "al": "c"},
      {"r": 3, "c": 1, "t": "66", "al": "c"},
      {"r": 3, "c": 2, "t": "-1.8", "al": "s"},
      {"r": 3, "c": 3, "t": "-2.7%", "al": "r"},
      {"r": 3, "c": 4, "t": "-6", "al": "s"},
      {"r": 3, "c": 5, "t": "-8%", "al": "r"},
      {"r": 3, "c": 6, "t": "-40", "al": "s"},
      {"r": 3, "c": 7, "t": "-37%", "al": "r"},
      {"r": 4, "c": 0, "t": "Chile", "al": "c"},
      {"r": 4, "c": 1, "t": "43", "al": "c"},
      {"r": 4, "c": 2, "t": "-2.7", "al": "s"},
      {"r": 4, "c": 3, "t": "-5.9%", "al": "r"},
      {"r": 4, "c": 4, "t": "-5", "al": "s"},
      {"r": 4, "c": 5, "t": "-11%", "al": "r"},
      {"r": 4, "c": 6, "t": "-38", "al": "s"},
      {"r": 4, "c": 7, "t": "-47%", "al": "r"}
    ]
  },
  "layer": [
    {
      "data": {"name": "cds"},
      "transform": [
        {"fold": ["BRASIL", "CHILE", "MÉXICO", "PERÚ", "COLOMBIA"], "as": ["pais", "pb"]}
      ],
      "mark": {"type": "line", "strokeWidth": 2.8, "strokeJoin": "round"},
      "encoding": {
        "x": {
          "field": "fecha",
          "type": "temporal",
          "scale": {
            "type": "utc",
            "nice": false,
            "domain": [
              {"year": 2016, "month": 4, "date": 12, "utc": true},
              {"year": 2018, "month": 1, "date": 12, "utc": true}
            ]
          },
          "axis": {
            "orient": "bottom",
            "title": null,
            "grid": false,
            "format": "%d%b%y",
            "values": [
              {"year": 2016, "month": 4, "date": 12, "utc": true},
              {"year": 2016, "month": 5, "date": 2, "utc": true},
              {"year": 2016, "month": 5, "date": 22, "utc": true},
              {"year": 2016, "month": 6, "date": 11, "utc": true},
              {"year": 2016, "month": 7, "date": 1, "utc": true},
              {"year": 2016, "month": 7, "date": 21, "utc": true},
              {"year": 2016, "month": 8, "date": 10, "utc": true},
              {"year": 2016, "month": 8, "date": 30, "utc": true},
              {"year": 2016, "month": 9, "date": 19, "utc": true},
              {"year": 2016, "month": 10, "date": 9, "utc": true},
              {"year": 2016, "month": 10, "date": 29, "utc": true},
              {"year": 2016, "month": 11, "date": 18, "utc": true},
              {"year": 2016, "month": 12, "date": 8, "utc": true},
              {"year": 2016, "month": 12, "date": 28, "utc": true},
              {"year": 2017, "month": 1, "date": 17, "utc": true},
              {"year": 2017, "month": 2, "date": 6, "utc": true},
              {"year": 2017, "month": 2, "date": 26, "utc": true},
              {"year": 2017, "month": 3, "date": 18, "utc": true},
              {"year": 2017, "month": 4, "date": 7, "utc": true},
              {"year": 2017, "month": 4, "date": 27, "utc": true},
              {"year": 2017, "month": 5, "date": 17, "utc": true},
              {"year": 2017, "month": 6, "date": 6, "utc": true},
              {"year": 2017, "month": 6, "date": 26, "utc": true},
              {"year": 2017, "month": 7, "date": 16, "utc": true},
              {"year": 2017, "month": 8, "date": 5, "utc": true},
              {"year": 2017, "month": 8, "date": 25, "utc": true},
              {"year": 2017, "month": 9, "date": 14, "utc": true},
              {"year": 2017, "month": 10, "date": 4, "utc": true},
              {"year": 2017, "month": 10, "date": 24, "utc": true},
              {"year": 2017, "month": 11, "date": 13, "utc": true},
              {"year": 2017, "month": 12, "date": 3, "utc": true},
              {"year": 2017, "month": 12, "date": 23, "utc": true},
              {"year": 2018, "month": 1, "date": 12, "utc": true}
            ],
            "labelAngle": 270,
            "labelFont": "Liberation Serif",
            "labelFontSize": 18,
            "labelColor": "#000000",
            "labelPadding": 11,
            "labelOverlap": false,
            "labelFlush": false,
            "tickSize": -5,
            "tickColor": "#000000",
            "tickWidth": 1,
            "domainColor": "#000000",
            "domainWidth": 1.5
          }
        },
        "y": {
          "field": "pb",
          "type": "quantitative",
          "scale": {"domain": [40, 460], "nice": false, "zero": false},
          "axis": {
            "orient": "left",
            "title": null,
            "grid": false,
            "values": [40, 100, 160, 220, 280, 340, 400, 460],
            "labelFont": "DejaVu Serif",
            "labelFontSize": 17,
            "labelColor": "#000000",
            "labelPadding": 17,
            "tickSize": 4,
            "tickColor": "#A6A6A6",
            "domainColor": "#A6A6A6",
            "domainWidth": 2
          }
        },
        "color": {
          "field": "pais",
          "type": "nominal",
          "scale": {
            "domain": ["BRASIL", "CHILE", "MÉXICO", "PERÚ", "COLOMBIA"],
            "range": ["#C00000", "#0070C0", "#7030A0", "#FF9A10", "#00B050"]
          },
          "legend": {
            "orient": "none",
            "legendX": 128,
            "legendY": 456,
            "direction": "horizontal",
            "title": null,
            "symbolType": "stroke",
            "symbolSize": 1681,
            "symbolStrokeWidth": 3,
            "labelFont": "DejaVu Serif",
            "labelFontSize": 24,
            "labelColor": "#000000",
            "labelOffset": 5,
            "labelLimit": 400,
            "columnPadding": 62
          }
        }
      }
    },
    {
      "layer": [
        {
          "data": {"name": "bordes"},
          "mark": {"type": "rule", "color": "#000000", "strokeWidth": 1.5},
          "encoding": {
            "x": {"field": "c1", "type": "quantitative", "axis": null,
                  "scale": {"domain": [-0.5, 0.5, 1.5, 7.5], "range": [0, 108.5, 177, 694.5], "nice": false, "zero": false}},
            "x2": {"field": "c2"},
            "y": {"field": "r1", "type": "quantitative", "axis": null,
                  "scale": {"domain": [-2.5, 4.5], "range": [-46, 84], "nice": false, "zero": false}},
            "y2": {"field": "r2"}
          }
        },
        {
          "data": {"name": "celdas"},
          "transform": [{"filter": "datum.al === 'c'"}],
          "mark": {"type": "text", "font": "DejaVu Serif", "fontSize": 17, "color": "#000000", "align": "center", "baseline": "middle"},
          "encoding": {
            "x": {"field": "c", "type": "quantitative", "axis": null,
                  "scale": {"domain": [-0.5, 0.5, 1.5, 7.5], "range": [0, 108.5, 177, 694.5], "nice": false, "zero": false}},
            "y": {"field": "r", "type": "quantitative", "axis": null,
                  "scale": {"domain": [-2.5, 4.5], "range": [-46, 84], "nice": false, "zero": false}},
            "text": {"field": "t"}
          }
        },
        {
          "data": {"name": "celdas"},
          "transform": [{"filter": "datum.al === 's'"}],
          "mark": {"type": "text", "font": "DejaVu Serif", "fontSize": 17, "color": "#000000", "align": "center", "baseline": "middle", "dx": 9},
          "encoding": {
            "x": {"field": "c", "type": "quantitative", "axis": null,
                  "scale": {"domain": [-0.5, 0.5, 1.5, 7.5], "range": [0, 108.5, 177, 694.5], "nice": false, "zero": false}},
            "y": {"field": "r", "type": "quantitative", "axis": null,
                  "scale": {"domain": [-2.5, 4.5], "range": [-46, 84], "nice": false, "zero": false}},
            "text": {"field": "t"}
          }
        },
        {
          "data": {"name": "celdas"},
          "transform": [{"filter": "datum.al === 'r'"}],
          "mark": {"type": "text", "font": "DejaVu Serif", "fontSize": 17, "color": "#000000", "align": "right", "baseline": "middle", "dx": 39},
          "encoding": {
            "x": {"field": "c", "type": "quantitative", "axis": null,
                  "scale": {"domain": [-0.5, 0.5, 1.5, 7.5], "range": [0, 108.5, 177, 694.5], "nice": false, "zero": false}},
            "y": {"field": "r", "type": "quantitative", "axis": null,
                  "scale": {"domain": [-2.5, 4.5], "range": [-46, 84], "nice": false, "zero": false}},
            "text": {"field": "t"}
          }
        }
      ]
    },
    {
      "layer": [
        {
          "layer": [
            {
              "data": {"name": "marco"},
              "mark": {"type": "rect", "filled": false, "color": "#A6A6A6", "strokeWidth": 2},
              "encoding": {
                "x": {
                  "field": "inicio",
                  "type": "temporal",
                  "scale": {
                    "type": "utc",
                    "nice": false,
                    "domain": [
                      {"year": 2017, "month": 12, "date": 15, "utc": true},
                      {"year": 2018, "month": 1, "date": 12, "utc": true}
                    ],
                    "range": [855.7, 1157.3]
                  },
                  "axis": {
                    "orient": "bottom",
                    "offset": -275.7,
                    "title": null,
                    "grid": false,
                    "domain": false,
                    "format": "%d-%b",
                    "values": [
                      {"year": 2017, "month": 12, "date": 15, "utc": true},
                      {"year": 2017, "month": 12, "date": 19, "utc": true},
                      {"year": 2017, "month": 12, "date": 23, "utc": true},
                      {"year": 2017, "month": 12, "date": 27, "utc": true},
                      {"year": 2017, "month": 12, "date": 31, "utc": true},
                      {"year": 2018, "month": 1, "date": 4, "utc": true},
                      {"year": 2018, "month": 1, "date": 8, "utc": true},
                      {"year": 2018, "month": 1, "date": 12, "utc": true}
                    ],
                    "labelAngle": 270,
                    "labelFont": "Liberation Serif",
                    "labelFontSize": 13,
                    "labelColor": "#262626",
                    "labelPadding": 13,
                    "labelOverlap": false,
                    "labelFlush": false,
                    "tickSize": -5,
                    "tickColor": "#A6A6A6",
                    "tickWidth": 1.5
                  }
                },
                "x2": {"field": "fin"},
                "y": {
                  "field": "bajo",
                  "type": "quantitative",
                  "scale": {"domain": [40, 130], "range": [116.3, -35.3], "nice": false, "zero": false},
                  "axis": {
                    "orient": "left",
                    "offset": -855.7,
                    "title": null,
                    "grid": false,
                    "domain": false,
                    "ticks": false,
                    "values": [40, 70, 100, 130],
                    "labelFont": "DejaVu Serif",
                    "labelFontSize": 13,
                    "labelColor": "#262626",
                    "labelPadding": 17
                  }
                },
                "y2": {"field": "alto"}
              }
            },
            {
              "data": {"name": "diario"},
              "transform": [
                {"fold": ["CHILE", "MÉXICO", "PERÚ", "COLOMBIA"], "as": ["pais", "pb"]}
              ],
              "mark": {"type": "line", "strokeWidth": 2},
              "encoding": {
                "x": {"field": "fecha", "type": "temporal"},
                "y": {"field": "pb", "type": "quantitative"},
                "color": {
                  "field": "pais",
                  "type": "nominal",
                  "scale": {
                    "domain": ["CHILE", "MÉXICO", "PERÚ", "COLOMBIA"],
                    "range": ["#0000FF", "#7030A0", "#FFA040", "#00B050"]
                  },
                  "legend": null
                }
              }
            }
          ]
        },
        {
          "data": {"name": "diario"},
          "mark": {"type": "line", "strokeWidth": 2, "color": "#C00000"},
          "encoding": {
            "x": {"field": "fecha", "type": "temporal"},
            "y": {
              "field": "BRASIL",
              "type": "quantitative",
              "scale": {"domain": [140, 190], "range": [116.3, -35.3], "nice": false, "zero": false},
              "axis": {
                "orient": "right",
                "offset": -97.7,
                "grid": false,
                "domain": false,
                "values": [140, 150, 160, 170, 180, 190],
                "labelFont": "DejaVu Serif",
                "labelFontSize": 13,
                "labelColor": "#262626",
                "labelPadding": 25,
                "tickSize": -5,
                "tickColor": "#A6A6A6",
                "tickWidth": 1.5,
                "title": "Brasil",
                "titleFont": "Liberation Serif",
                "titleFontSize": 14,
                "titleFontWeight": "normal",
                "titleColor": "#262626",
                "titleAngle": 270,
                "titlePadding": 20
              }
            }
          }
        }
      ],
      "resolve": {"scale": {"y": "independent"}}
    }
  ],
  "resolve": {"scale": {"x": "independent", "y": "independent", "color": "independent"}}
}
